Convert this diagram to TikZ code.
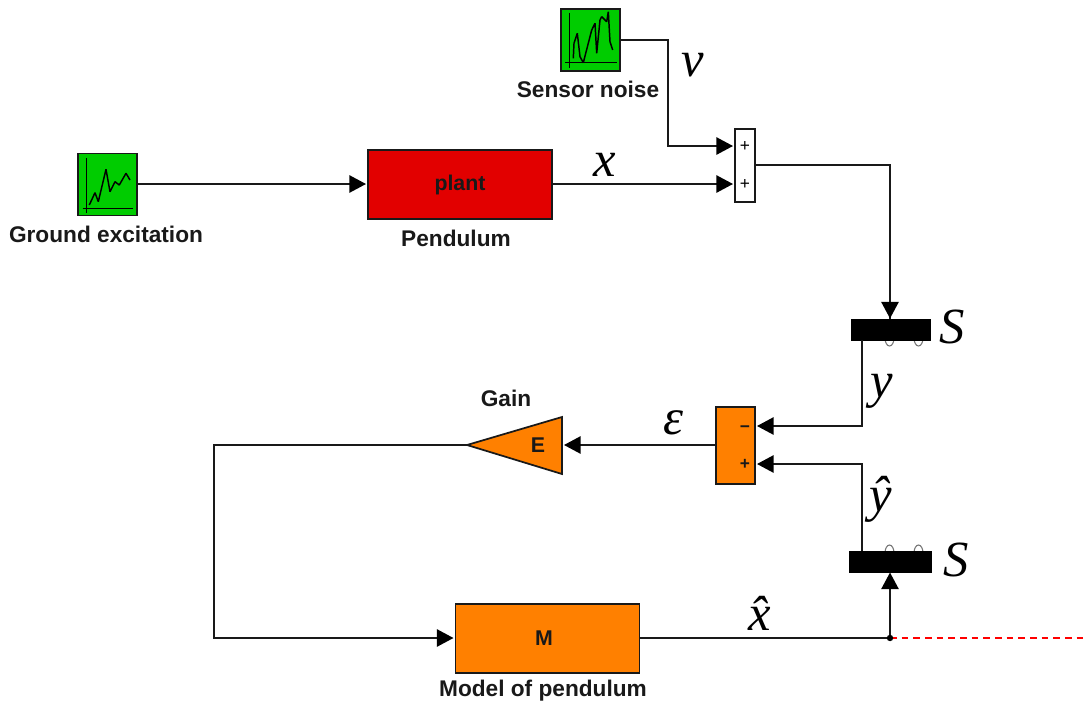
\documentclass[tikz,border=0pt]{standalone}
\usepackage{fontspec}
\setmainfont{Liberation Sans}
\newfontfamily\mathserif{Liberation Serif}
\usetikzlibrary{arrows.meta}
\definecolor{scopegreen}{RGB}{0,204,0}
\definecolor{plantred}{RGB}{226,0,0}
\definecolor{blockorange}{RGB}{255,128,0}
\definecolor{inkdark}{RGB}{25,25,25}
\tikzset{
  x=0.75pt,y=-0.75pt,
  block/.style={draw=inkdark,line width=1.3pt,inner sep=0pt,outer sep=0pt,font=\fontsize{16}{18}\selectfont\bfseries,text=inkdark},
  scopebox/.style={block,fill=scopegreen,minimum width=44.25pt,minimum height=46.5pt},
  largebox/.style={block,minimum width=138pt,minimum height=51.75pt},
  sumbox/.style={block,minimum width=15pt,minimum height=54.75pt,fill=white},
  sumtwobox/.style={block,minimum width=29.25pt,minimum height=57.75pt,fill=blockorange},
  selectbar/.style={fill=black,draw=black,line width=0.4pt,inner sep=0pt,outer sep=0pt,minimum height=15.75pt},
  caption/.style={font=\fontsize{17}{18}\selectfont\bfseries,text=inkdark,inner sep=0pt},
  sign/.style={font=\fontsize{13}{14}\selectfont\bfseries,text=inkdark,inner sep=0pt},
  thinsign/.style={font=\fontsize{13}{14}\selectfont,text=black,inner sep=0pt},
  symb/.style={font=\fontsize{38}{40}\selectfont\mathserif\itshape,text=black,inner sep=0pt,anchor=base},
  wire/.style={draw=inkdark,line width=1.35pt,line join=miter},
  arrowwire/.style={wire,-{Triangle[length=12.5pt,width=13pt,color=black]}},
  trace/.style={draw=black,line width=1.1pt,line join=bevel},
  bump/.style={draw=black!55,fill=white,line width=0.8pt},
}
\begin{document}
\begin{tikzpicture}
\useasboundingbox (0,0) rectangle (1086,704);

% blocks
\node[scopebox] (noise) at (590.5,40) {};
\node[scopebox] (ground) at (107.5,184.5) {};
\node[largebox,fill=plantred] (plant) at (460,184.5) {plant\hspace{3pt}};
\node[largebox,fill=blockorange] (model) at (547.5,638.5) {};
\node[block,draw=none,inner sep=0pt] (mlabel) at (544,638) {M};
\node[sumbox] (sumA) at (745,165.5) {};
\node[sumtwobox] (sumB) at (735.5,445.5) {};

% scope traces
\draw[trace] (569.5,12.5) -- (569.5,68);
\draw[trace] (565,62.7) -- (617,62.7);
\draw[trace] (573.3,58.3) -- (574,43.3) -- (577.3,33.3) -- (580,56.7) -- (583.3,62.7) -- (591.7,30) -- (595,23.3) -- (596.7,53.3) -- (600,20) -- (601.7,16.7) -- (606.7,21.7) -- (608.3,11.7) -- (610,41.7) -- (612.7,50);
\draw[trace] (86.7,157.5) -- (86.7,212.5);
\draw[trace] (82.7,208.3) -- (133.3,208.3);
\draw[trace] (89.3,205) -- (95,192.7) -- (98.3,201.7) -- (106,169.3) -- (110,191.7) -- (115,181.7) -- (119.3,185) -- (126,173.3) -- (130,180);

% sum signs
\node[thinsign] (plusA) at (745,146) {+};
\node[thinsign] (plusB) at (745,184) {+};
\node[sign] (minusC) at (745,429.5) {−};
\node[sign] (plusD) at (745,464) {+};

% selector bars with their small ports
\draw[bump] (885,338) arc (180:0:4.5 and 8);
\draw[bump] (914,338) arc (180:0:4.5 and 8);
\node[selectbar,minimum width=59.25pt] (selA) at (890.5,329.5) {};
\draw[bump] (885,553) arc (180:360:4.5 and 8);
\draw[bump] (914,553) arc (180:360:4.5 and 8);
\node[selectbar,minimum width=61.5pt] (selB) at (890.5,561.5) {};

% gain triangle
\coordinate (gaintip) at (467,445);
\coordinate (gaintop) at (562,417);
\coordinate (gainbot) at (562,474);
\coordinate (gainin) at (562,445);
\draw[block,fill=blockorange,line join=miter] (gaintip) -- (gaintop) -- (gainbot) -- cycle;
\node[block,draw=none] (elabel) at (538,445) {E};

% port coordinates
\coordinate (portAa) at (sumA.west |- 0,146);
\coordinate (portAb) at (sumA.west |- 0,184);
\coordinate (portAo) at (sumA.east |- 0,165);
\coordinate (portBa) at (757,426);
\coordinate (portBb) at (757,464);
\coordinate (bendN1) at (668,40);
\coordinate (bendN2) at (668,146);
\coordinate (bendO) at (890,165);
\coordinate (selAin) at (890,318.5);
\coordinate (selAout) at (862,322);
\coordinate (bendY) at (862,426);
\coordinate (selBout) at (862,561);
\coordinate (bendYh) at (862,464);
\coordinate (junction) at (890,638);
\coordinate (selBin) at (890,572.5);
\coordinate (bendG1) at (214,445);
\coordinate (bendG2) at (214,638);
\coordinate (dashend) at (1083,638);

% connectors
\draw[arrowwire,shorten >=1.5pt] (ground.east |- 0,184) -- (plant.west |- 0,184);
\draw[arrowwire,shorten >=1.5pt] (noise.east |- bendN1) -- (bendN1) -- (bendN2) -- (portAa);
\draw[arrowwire,shorten >=1.5pt] (plant.east |- portAb) -- (portAb);
\draw[wire] (portAo) -- (bendO) -- (selAin);
\draw[arrowwire] (bendO) -- (selAin);
\draw[arrowwire] (selA.south -| selAout) -- (bendY) -- (portBa);
\draw[arrowwire] (selB.north -| selBout) -- (bendYh) -- (portBb);
\draw[arrowwire] (sumB.west |- gainin) -- ([xshift=1.5pt]gainin);
\draw[arrowwire,shorten >=1.5pt] (gaintip) -- (bendG1) -- (bendG2) -- (model.west |- bendG2);
\draw[wire] (model.east |- junction) -- (junction);
\draw[arrowwire] (junction) -- (selBin);
\draw[red,line width=1.2pt,dash pattern=on 5pt off 3.75pt] (junction) -- (dashend);
\fill[black] (junction) circle (2.4pt);

% captions
\node[caption] (capN) at (588,89) {Sensor noise};
\node[caption] (capG) at (106,234) {Ground excitation};
\node[caption] (capP) at (456,238) {Pendulum};
\node[caption] (capGain) at (506,398) {Gain};
\node[caption] (capM) at (543,691) {Model of pendulum};

% symbols
\node[symb] (symv) at (693,76) {v};
\node[symb] (symx) at (605,176) {x};
\node[symb] (symS) at (952,343) {S};
\node[symb] (symy) at (882,397) {y};
\node[symb] (syme) at (673,434) {ε};
\node[symb] (symyh) at (881,511) {\^{y}};
\node[symb] (symS2) at (956,576) {S};
\node[symb] (symxh) at (760,630) {\^{x}};
\end{tikzpicture}
\end{document}
